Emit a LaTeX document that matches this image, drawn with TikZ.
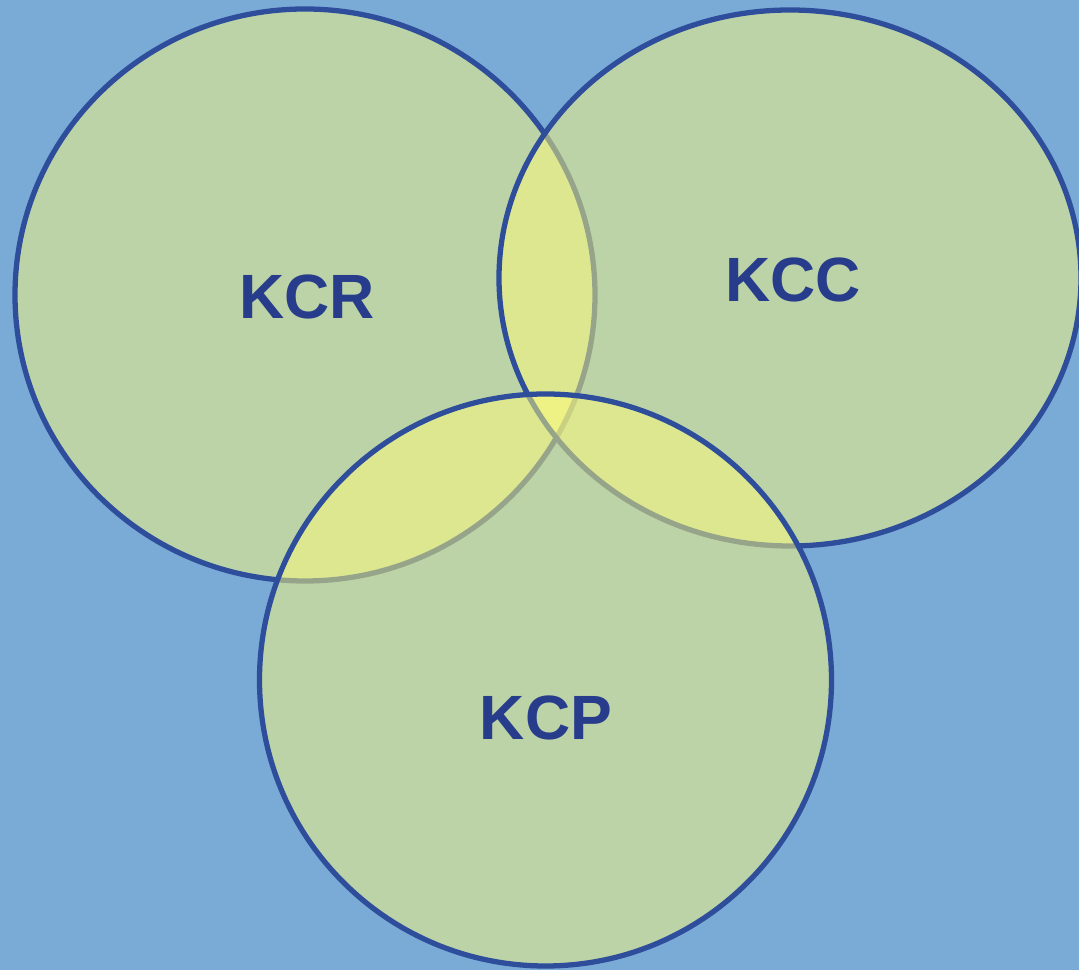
\documentclass[tikz,border=0pt]{standalone}
\usepackage{fontspec}
\setmainfont{Liberation Sans}
\usepackage{xcolor}
\definecolor{bgblue}{RGB}{122,170,214}
\definecolor{setfill}{RGB}{255,252,122}
\definecolor{setline}{RGB}{46,78,156}
\definecolor{labelblue}{RGB}{40,60,140}

\begin{document}
\begin{tikzpicture}
	\tikzset{setshape/.style={draw=setline, line width=1.5pt, fill=setfill, fill opacity=0.5},
		setlabel/.style={text=labelblue, font=\fontsize{17.8}{18}\selectfont\bfseries}}
			\useasboundingbox (0,0) rectangle (10.79,9.70);
			\clip (0,0) rectangle (10.79,9.70);
			\fill[bgblue] (0,0) rectangle (10.79,9.70);
			
			\draw[setshape] (3.05,6.75) ellipse [x radius=2.90, y radius=2.86];
			\draw[setshape] (7.90,6.92) ellipse [x radius=2.91, y radius=2.68];
			\draw[setshape] (5.455,2.90) ellipse [x radius=2.86, y radius=2.86];
			
			\node[setlabel] (kcr) at (3.07,6.73) {KCR};
			\node[setlabel] (kcc) at (7.93,6.90) {KCC};
			\node[setlabel] (kcp) at (5.46,2.52) {KCP};
		\end{tikzpicture}
\end{document}
